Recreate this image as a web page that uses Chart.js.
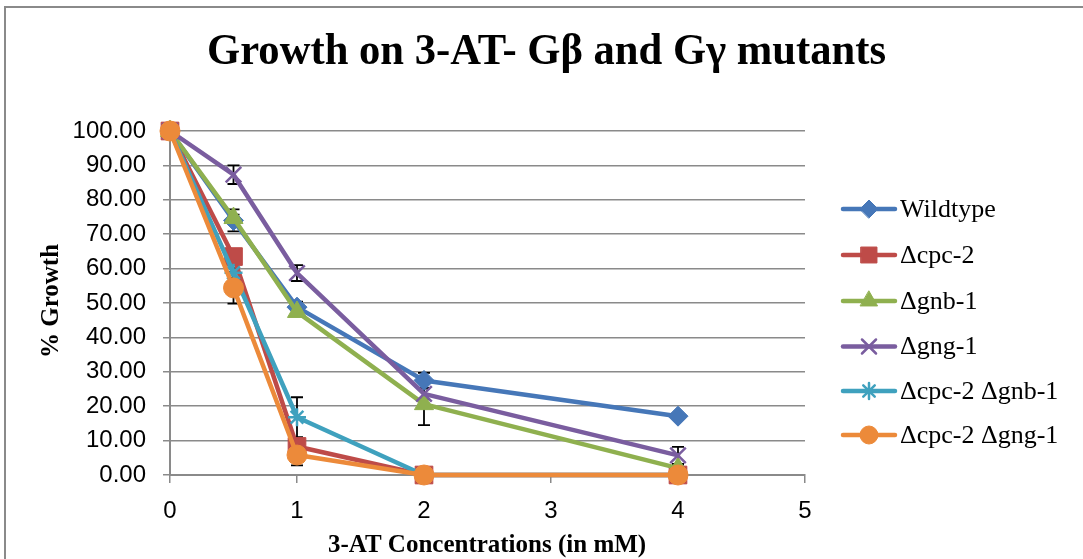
<!DOCTYPE html>
<html>
<head>
<meta charset="utf-8">
<script src="https://cdn.jsdelivr.net/npm/chart.js@4/dist/chart.umd.min.js"></script>
<style>
html,body{margin:0;padding:0;background:#fff;}
#wrap{width:1083px;height:559px;position:relative;}
</style>
</head>
<body>
<div id="wrap"><canvas id="c" width="1083" height="559"></canvas></div>
<script>
// ---- data ----
const concentrations = [0, 0.5, 1, 2, 4];
const seriesNames = ["Wildtype", "\u0394cpc-2", "\u0394gnb-1", "\u0394gng-1", "\u0394cpc-2 \u0394gnb-1", "\u0394cpc-2 \u0394gng-1"];
const wildtype    = [100, 74.0, 48.8, 27.5, 17.1];
const cpc2        = [100, 63.5, 8.3, 0, 0];
const gnb1        = [100, 74.7, 47.4, 20.6, 2.0];
const gng1        = [100, 87.3, 58.7, 23.6, 5.7];
const cpc2gnb1    = [100, 58.8, 16.8, 0, 0];
const cpc2gng1    = [100, 54.4, 5.8, 0, 0];
const wildtypeErr = [0, 3.2, 1.6, 2.2, 0.5];
const cpc2Err     = [0, 1.0, 1.0, 0, 0];
const gnb1Err     = [0, 1.0, 1.0, 6.1, 1.0];
const gng1Err     = [0, 2.7, 2.3, 1.5, 2.5];
const cpc2gnb1Err = [0, 1.4, 5.8, 0, 0];
const cpc2gng1Err = [0, 4.6, 3.0, 0, 0];
const yTicks = [0, 10, 20, 30, 40, 50, 60, 70, 80, 90, 100];
const xTicks = [0, 1, 2, 3, 4, 5];

const values = [wildtype, cpc2, gnb1, gng1, cpc2gnb1, cpc2gng1];
const errors = [wildtypeErr, cpc2Err, gnb1Err, gng1Err, cpc2gnb1Err, cpc2gng1Err];
const colors = ['#4677B8', '#BE4B48', '#8FB04F', '#7A5D9F', '#3FA1BE', '#EC8A3A'];
const styles = ['rectRot', 'rect', 'triangle', 'crossRot', 'star', 'circle'];
const radii  = [10, 12.5, 11, 11, 9, 10];
const pbw    = [1, 1, 1, 2.5, 2.5, 1];

const datasets = values.map((vals, i) => ({
  label: seriesNames[i],
  data: vals.map((v, j) => ({x: concentrations[j], y: v})),
  borderColor: colors[i],
  backgroundColor: colors[i],
  borderWidth: 4.5,
  borderCapStyle: 'round',
  borderJoinStyle: 'round',
  pointStyle: styles[i],
  pointRadius: radii[i],
  pointBorderWidth: pbw[i],
  pointBackgroundColor: colors[i],
  pointBorderColor: colors[i],
  tension: 0,
  clip: false,
  order: values.length - 1 - i
}));

const SERIF = '"Liberation Serif", "Times New Roman", serif';
const SANS = '"Liberation Sans", Arial, sans-serif';

const errorBars = {
  id: 'errorBars',
  beforeDatasetsDraw(chart) {
    const ctx = chart.ctx, xs = chart.scales.x, ys = chart.scales.y;
    ctx.save();
    ctx.strokeStyle = '#000';
    ctx.lineWidth = 1.8;
    errors.forEach((errs, i) => {
      errs.forEach((e, j) => {
        if (!e) return;
        const v = values[i][j];
        const px = xs.getPixelForValue(concentrations[j]);
        const top = ys.getPixelForValue(Math.min(100, v + e));
        const bot = ys.getPixelForValue(Math.max(0, v - e));
        ctx.beginPath();
        ctx.moveTo(px, top); ctx.lineTo(px, bot);
        ctx.moveTo(px - 6, top); ctx.lineTo(px + 6, top);
        ctx.moveTo(px - 6, bot); ctx.lineTo(px + 6, bot);
        ctx.stroke();
      });
    });
    ctx.restore();
  }
};

const decor = {
  id: 'decor',
  afterDraw(chart) {
    const ctx = chart.ctx;
    ctx.save();
    // outer frame
    ctx.strokeStyle = '#8a8a8a';
    ctx.lineWidth = 2;
    ctx.strokeRect(5, 7, 2000, 2000);
    // title (slightly condensed)
    const title = 'Growth on 3-AT- G\u03b2 and G\u03b3 mutants';
    ctx.fillStyle = '#000';
    ctx.font = 'bold 44px ' + SERIF;
    ctx.textBaseline = 'alphabetic';
    ctx.textAlign = 'center';
    const tw = ctx.measureText(title).width;
    const sx = 679 / tw;
    ctx.save();
    ctx.translate(546.5, 64);
    ctx.scale(sx, 1);
    ctx.fillText(title, 0, 0);
    ctx.restore();
    // x axis title
    ctx.font = 'bold 25px ' + SERIF;
    ctx.fillText('3-AT Concentrations (in mM)', 487, 552);
    // y axis title
    ctx.save();
    ctx.translate(58, 301);
    ctx.rotate(-Math.PI / 2);
    ctx.fillText('% Growth', 0, 0);
    ctx.restore();
    // legend
    const rowY = [209, 255, 301, 346.5, 391, 435];
    ctx.textAlign = 'left';
    ctx.textBaseline = 'middle';
    ctx.font = '26px ' + SERIF;
    seriesNames.forEach((name, i) => {
      const y = rowY[i];
      ctx.strokeStyle = colors[i];
      ctx.lineWidth = 4.5;
      ctx.lineCap = 'round';
      ctx.beginPath();
      ctx.moveTo(843, y); ctx.lineTo(895, y);
      ctx.stroke();
      ctx.fillStyle = colors[i];
      ctx.strokeStyle = colors[i];
      ctx.lineWidth = pbw[i];
      Chart.helpers.drawPoint(ctx, {pointStyle: styles[i], radius: radii[i] * 0.9, rotation: 0, borderWidth: pbw[i]}, 869, y);
      ctx.fillStyle = '#000';
      ctx.fillText(name, 900, y + 1);
    });
    ctx.restore();
  }
};

new Chart(document.getElementById('c'), {
  type: 'line',
  data: { datasets },
  options: {
    responsive: false,
    animation: false,
    events: [],
    layout: { padding: { top: 131, right: 278, left: 0, bottom: 0 } },
    plugins: { legend: { display: false }, title: { display: false }, tooltip: { enabled: false } },
    scales: {
      x: {
        type: 'linear', min: 0, max: 5,
        afterFit(s) { s.height = 84; },
        afterBuildTicks(s) { s.ticks = xTicks.map(v => ({value: v})); },
        ticks: { color: '#000', font: { family: SANS, size: 24 }, padding: 14, callback: v => String(v) },
        grid: { drawOnChartArea: false, drawTicks: true, tickLength: 8, color: '#8a8a8a', lineWidth: 1.5 },
        border: { color: '#8a8a8a', width: 2 }
      },
      y: {
        min: 0, max: 100,
        afterFit(s) { s.width = 170; },
        afterBuildTicks(s) { s.ticks = yTicks.map(v => ({value: v})); },
        ticks: { color: '#000', font: { family: SANS, size: 24 }, padding: 17, callback: v => Number(v).toFixed(2) },
        grid: { color: '#8a8a8a', lineWidth: 1.5, tickLength: 7 },
        border: { color: '#8a8a8a', width: 2 }
      }
    }
  },
  plugins: [errorBars, decor]
});
</script>
</body>
</html>
